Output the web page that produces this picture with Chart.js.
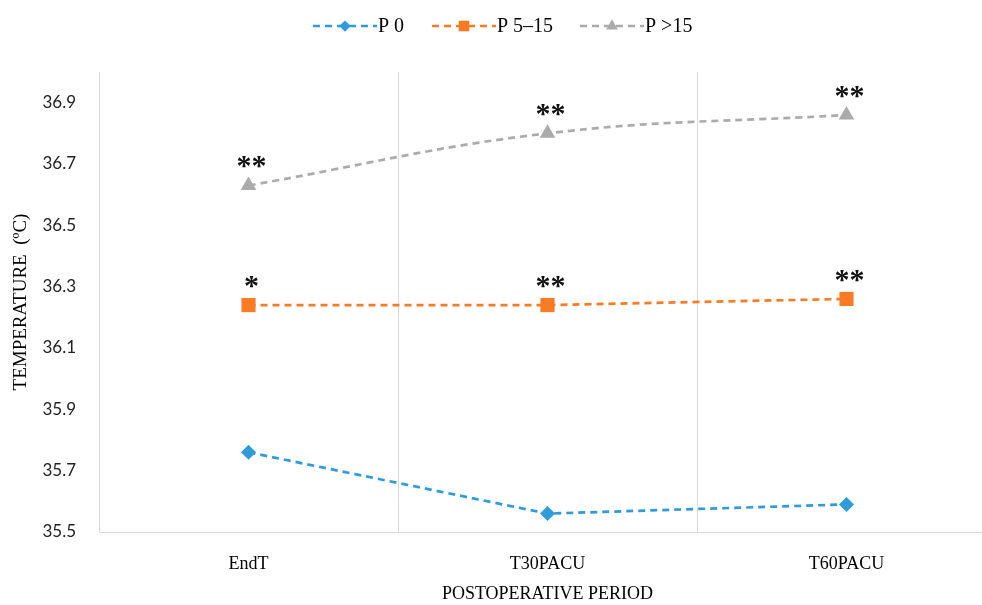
<!DOCTYPE html>
<html>
<head>
<meta charset="utf-8">
<script src="https://cdn.jsdelivr.net/npm/chart.js@4"></script>
<style>
html,body{margin:0;padding:0;background:#fff;overflow:hidden;}
#c{display:block;}
</style>
</head>
<body>
<canvas id="c" width="1006" height="605"></canvas>
<script>
const categories = ["EndT", "T30PACU", "T60PACU"];
const seriesNames = ["P 0", "P 5\u201315", "P >15"];
const p0 = [35.76, 35.56, 35.59];
const p5to15 = [36.24, 36.24, 36.26];
const pOver15 = [36.63, 36.80, 36.86];
const marksP0 = ["", "", ""];
const marksP5to15 = ["*", "**", "**"];
const marksPOver15 = ["**", "**", "**"];
const yTicks = [35.5, 35.7, 35.9, 36.1, 36.3, 36.5, 36.7, 36.9];
const yTitle = "TEMPERATURE  (\u00BAC)";
const xTitle = "POSTOPERATIVE PERIOD";

const colors = ["#2E9BDB", "#F97C24", "#ABABAB"];
const serif = "'Liberation Serif', 'DejaVu Serif', serif";

const legendPlugin = {
  id: 'lineLegend',
  afterDraw(chart) {
    const ctx = chart.ctx;
    const y = 26;
    const starts = [313, 432, 580];
    chart.data.datasets.forEach((ds, i) => {
      const x0 = starts[i];
      const x1 = x0 + 64;
      ctx.save();
      ctx.strokeStyle = ds.borderColor;
      ctx.lineWidth = 2.5;
      ctx.setLineDash([7, 5]);
      ctx.beginPath(); ctx.moveTo(x0, y); ctx.lineTo(x1, y); ctx.stroke();
      ctx.setLineDash([]);
      ctx.fillStyle = ds.borderColor;
      Chart.helpers.drawPoint(ctx, {pointStyle: ds.pointStyle, radius: ds.pointRadius * 0.75, borderWidth: 0}, (x0 + x1) / 2, y);
      ctx.fillStyle = '#000';
      ctx.font = "20px " + serif;
      ctx.textBaseline = 'middle';
      ctx.textAlign = 'left';
      ctx.fillText(ds.label, x1 + 1, y + 1);
      ctx.restore();
    });
  }
};

const marksPlugin = {
  id: 'marks',
  afterDatasetsDraw(chart) {
    const ctx = chart.ctx;
    const allMarks = [marksP0, marksP5to15, marksPOver15];
    chart.data.datasets.forEach((ds, i) => {
      const meta = chart.getDatasetMeta(i);
      meta.data.forEach((pt, j) => {
        const m = allMarks[i][j];
        if (!m) return;
        ctx.save();
        ctx.fillStyle = '#111';
        ctx.font = "bold 30px " + serif;
        ctx.textAlign = 'center';
        ctx.textBaseline = 'alphabetic';
        ctx.fillText(m, pt.x + 3, pt.y - 10);
        ctx.restore();
      });
    });
  }
};

const mk = (label, data, color, style, r, tension) => ({
  label, data,
  borderColor: color, backgroundColor: color,
  borderWidth: 2.7, borderDash: [7, 5],
  pointStyle: style, pointRadius: r, pointHoverRadius: r,
  pointBorderWidth: 0, tension: tension, fill: false
});

new Chart(document.getElementById('c'), {
  type: 'line',
  data: {
    labels: categories,
    datasets: [
      mk(seriesNames[0], p0, colors[0], 'rectRot', 7.5, 0),
      mk(seriesNames[1], p5to15, colors[1], 'rect', 10, 0),
      mk(seriesNames[2], pOver15, colors[2], 'triangle', 9, 0.4)
    ]
  },
  options: {
    responsive: false,
    maintainAspectRatio: false,
    animation: false,
    layout: { padding: { top: 72, left: 0, right: 1, bottom: 0 } },
    plugins: { legend: { display: false }, tooltip: { enabled: false } },
    scales: {
      x: {
        offset: true,
        grid: { offset: true, color: '#D9D9D9', lineWidth: 1, drawTicks: false },
        border: { display: true, color: '#D9D9D9', width: 1 },
        ticks: { color: '#000', font: { family: serif, size: 18 }, padding: 21, maxRotation: 0 },
        title: { display: true, text: xTitle, color: '#000', font: { family: serif, size: 18 }, padding: { top: 6, bottom: 0 } },
        afterFit(s) { s.height = 73; }
      },
      y: {
        min: 35.5, max: 37.0,
        afterBuildTicks(s) { s.ticks = yTicks.map(v => ({ value: v })); },
        grid: { display: false },
        border: { display: true, color: '#D9D9D9', width: 1 },
        ticks: { color: '#222', font: { family: "Lato, 'Open Sans', sans-serif", size: 17 }, padding: 15,
                 callback: v => v.toFixed(1) },
        title: { display: true, text: yTitle, color: '#000', font: { family: serif, size: 19 }, padding: { top: 10, bottom: 0 } },
        afterFit(s) { s.width = 99; }
      }
    }
  },
  plugins: [legendPlugin, marksPlugin]
});
</script>
</body>
</html>
